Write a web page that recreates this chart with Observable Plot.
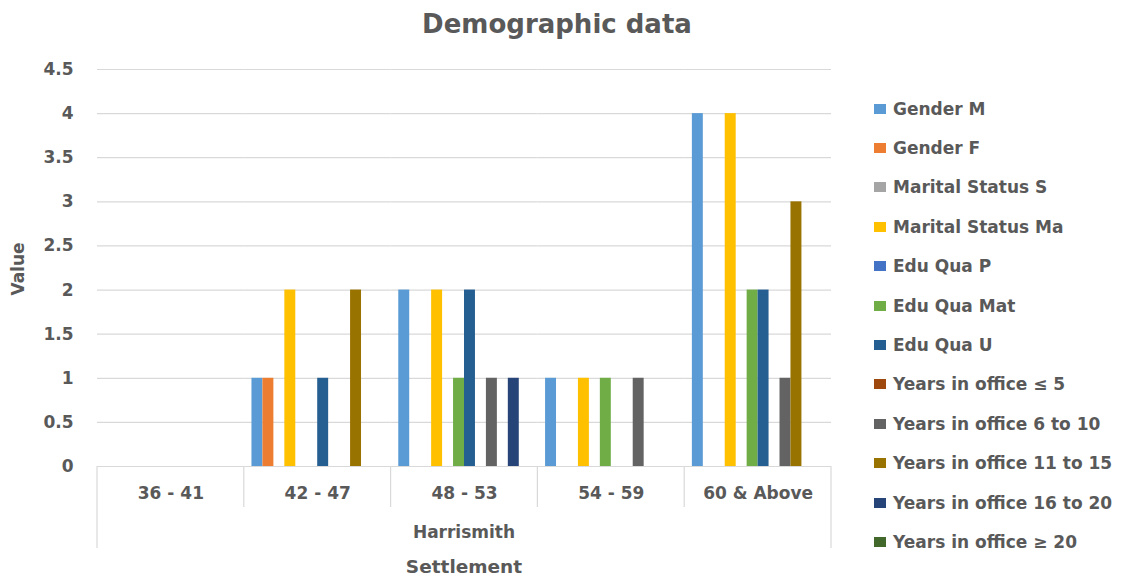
<!DOCTYPE html>
<html>
<head>
<meta charset="utf-8">
<script src="https://cdn.jsdelivr.net/npm/d3@7"></script>
<script src="https://cdn.jsdelivr.net/npm/@observablehq/plot@0.6"></script>
<style>
  body { margin: 0; background: #fff; font-family: "DejaVu Sans", sans-serif; }
  #wrap { position: relative; width: 1125px; height: 582px; overflow: hidden; background: #fff; }
  #chart { position: absolute; left: 0; top: 0; z-index: 0; }
  #chart svg text { font-weight: bold; fill: #595959; font-family: "DejaVu Sans", sans-serif; }
  .lbl { position: absolute; z-index: 2; text-align: center; font-weight: bold; color: #595959; white-space: nowrap; line-height: normal; }
  #title { left: 0; width: 1114px; top: 9px; font-size: 26px; }
  #group { left: 364px; width: 200px; top: 522px; font-size: 17px; }
  #settlement { left: 364px; width: 200px; top: 556px; font-size: 18.5px; }
  #ytitle { left: -32px; width: 100px; top: 259px; font-size: 17px; transform: rotate(-90deg); }
  #legend { position: absolute; left: 874px; top: 89px; z-index: 2; }
  .item { height: 39.4px; display: flex; align-items: center; font-weight: bold; font-size: 17px; color: #595959; white-space: nowrap; }
  .sw { width: 12px; height: 10px; margin-right: 7px; flex: none; }
</style>
</head>
<body>
<div id="wrap">
  <div id="chart"></div>
  <div id="title" class="lbl"></div>
  <div id="ytitle" class="lbl"></div>
  <div id="group" class="lbl"></div>
  <div id="settlement" class="lbl"></div>
  <div id="legend"></div>
</div>
<script>
// ---- data ----
const categories = ["36 - 41", "42 - 47", "48 - 53", "54 - 59", "60 & Above"];
const seriesNames = [
  "Gender M", "Gender F", "Marital Status S", "Marital Status Ma",
  "Edu Qua P", "Edu Qua Mat", "Edu Qua U",
  "Years in office ≤ 5", "Years in office 6 to 10", "Years in office 11 to 15",
  "Years in office 16 to 20", "Years in office ≥ 20"
];
const seriesColors = [
  "#5B9BD5", "#ED7D31", "#A5A5A5", "#FFC000",
  "#4472C4", "#70AD47", "#255E91",
  "#9E480E", "#636363", "#997300", "#264478", "#43682B"
];
const genderM      = [0, 1, 2, 1, 4];
const genderF      = [0, 1, 0, 0, 0];
const maritalS     = [0, 0, 0, 0, 0];
const maritalMa    = [0, 2, 2, 1, 4];
const eduP         = [0, 0, 0, 0, 0];
const eduMat       = [0, 0, 1, 1, 2];
const eduU         = [0, 1, 2, 0, 2];
const yearsLe5     = [0, 0, 0, 0, 0];
const years6to10   = [0, 0, 1, 1, 1];
const years11to15  = [0, 2, 0, 0, 3];
const years16to20  = [0, 0, 1, 0, 0];
const yearsGe20    = [0, 0, 0, 0, 0];
const yTicks = [0, 0.5, 1, 1.5, 2, 2.5, 3, 3.5, 4, 4.5];
const chartTitle = "Demographic data";
const groupLabel = "Harrismith";
const xTitle = "Settlement";
const yTitle = "Value";

const seriesValues = [genderM, genderF, maritalS, maritalMa, eduP, eduMat, eduU,
  yearsLe5, years6to10, years11to15, years16to20, yearsGe20];

const rows = [];
categories.forEach((c, ci) => {
  seriesNames.forEach((s, si) => {
    rows.push({category: c, series: s, value: seriesValues[si][ci]});
  });
});

const chart = Plot.plot({
  width: 850,
  height: 582,
  marginLeft: 97,
  marginRight: 19,
  marginTop: 69,
  marginBottom: 116,
  style: {background: "transparent", fontFamily: "DejaVu Sans, sans-serif"},
  fx: {domain: categories, padding: 0, round: false},
  x: {domain: seriesNames, axis: null, paddingInner: 0, paddingOuter: 0.7, round: false},
  y: {domain: [0, 4.5]},
  color: {domain: seriesNames, range: seriesColors},
  marks: [
    Plot.ruleY(yTicks, {stroke: "#d9d9d9", strokeWidth: 1.2}),
    Plot.barY(rows, {
      fx: "category", x: "series", y: "value", fill: "series", inset: 0
    }),
    Plot.axisY({
      ticks: yTicks, tickFormat: d => String(d), tickSize: 0, tickPadding: 24,
      fontSize: 17, label: null
    }),
    Plot.axisFx({
      anchor: "bottom", tickSize: 0, tickPadding: 20, fontSize: 17, label: null
    })
  ]
});
document.getElementById("chart").appendChild(chart);

// table-style separators below the category axis, positioned via the fx scale
const fxs = chart.scale("fx");
const ys = chart.scale("y");
const base = ys.apply(0);
const svg = d3.select(chart);
const bounds = categories.map(c => fxs.apply(c));
bounds.push(fxs.apply(categories[categories.length - 1]) + fxs.bandwidth);
bounds.forEach((bx, i) => {
  const outer = i === 0 || i === bounds.length - 1;
  svg.append("line")
    .attr("x1", bx).attr("x2", bx)
    .attr("y1", base).attr("y2", base + (outer ? 82 : 41))
    .attr("stroke", "#d9d9d9").attr("stroke-width", 1.2);
});

// texts
document.getElementById("title").textContent = chartTitle;
document.getElementById("ytitle").textContent = yTitle;
document.getElementById("group").textContent = groupLabel;
document.getElementById("settlement").textContent = xTitle;

// legend
const legend = document.getElementById("legend");
seriesNames.forEach((s, i) => {
  const item = document.createElement("div");
  item.className = "item";
  const sw = document.createElement("span");
  sw.className = "sw";
  sw.style.background = seriesColors[i];
  item.appendChild(sw);
  item.appendChild(document.createTextNode(s));
  legend.appendChild(item);
});
</script>
</body>
</html>
